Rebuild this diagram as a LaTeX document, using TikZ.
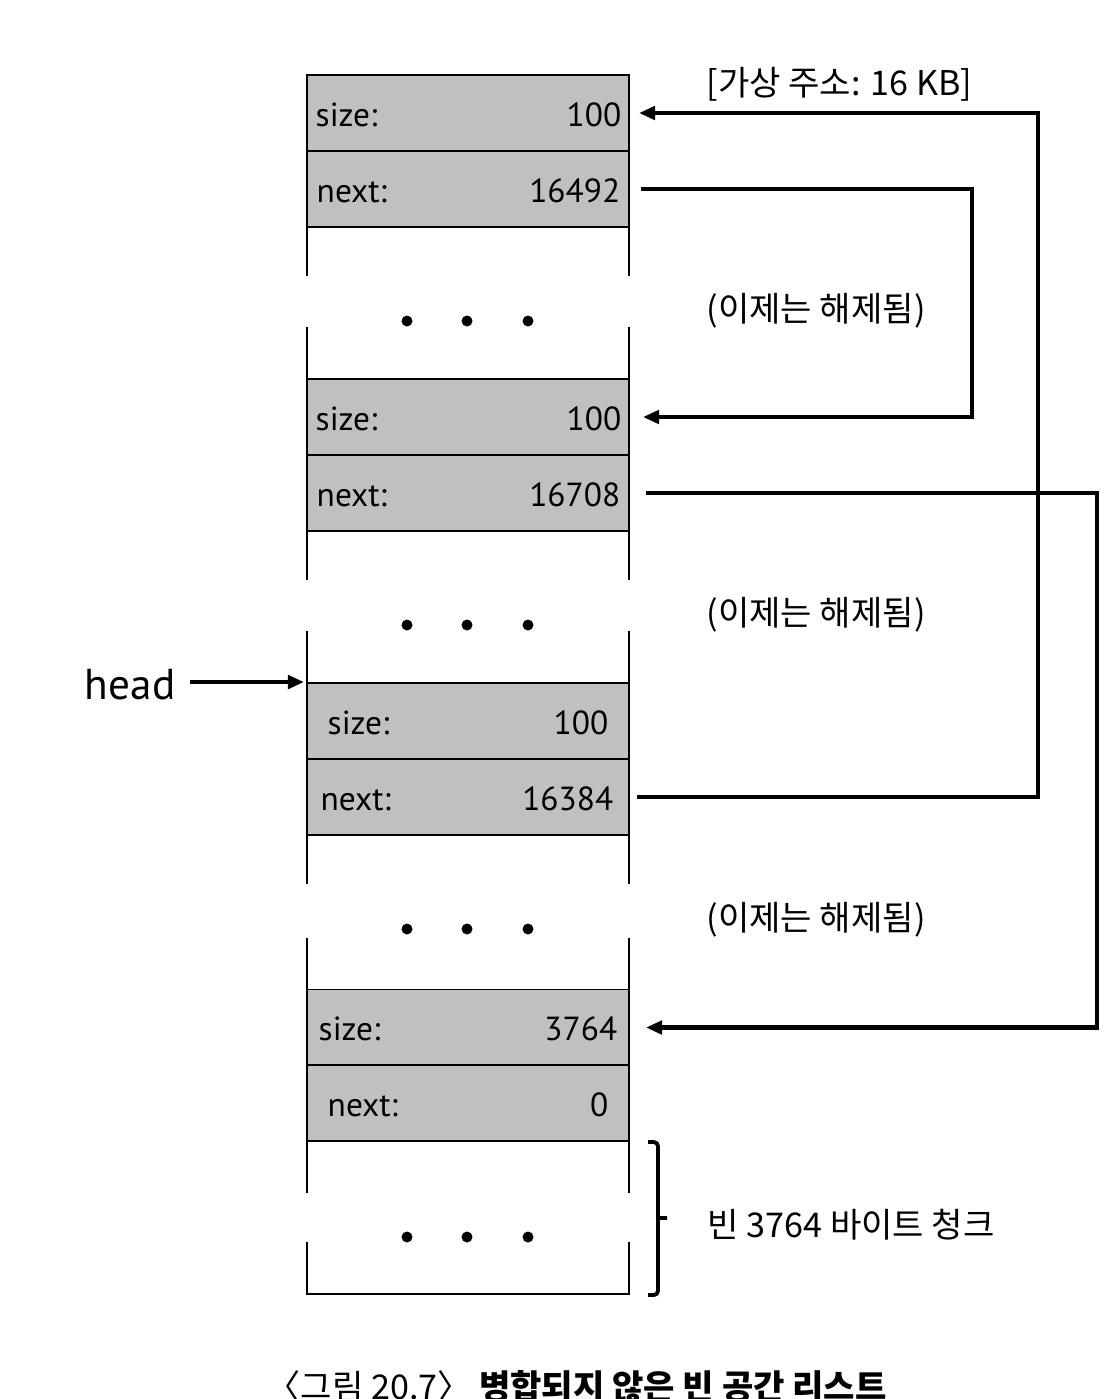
\documentclass[tikz,border=0pt]{standalone}
\usepackage{fontspec}
\usetikzlibrary{arrows.meta,calc,positioning}
\newfontfamily\krfont{Noto Sans CJK KR}
\newfontfamily\fldfont{PT Sans}
\definecolor{cellgray}{RGB}{192,192,192}
\tikzset{
  every picture/.style={line cap=butt, line join=miter,
    >={Triangle[length=4.6pt,width=3.8pt]}},
  % Speicherzellen
  cell/.style={draw, line width=0.55pt, fill=cellgray, minimum width=3.22cm,
    minimum height=0.76cm, inner sep=0pt},
  wall/.style={line width=0.55pt},
  fld/.style={font=\fldfont\fontsize{9.5}{12}\selectfont, inner sep=0pt},
  % Zeiger
  ptr/.style={line width=1.3pt, ->},
  note/.style={font=\krfont\fontsize{9.7}{11}\selectfont, anchor=west, inner sep=0pt},
  brace/.style={line width=1.1pt, rounded corners=1.2pt},
}
\begin{document}
\begin{tikzpicture}
  \useasboundingbox (0,0) rectangle (11.15,-13.99);
  % Felder: Name / y / Schluessel / Wert / Abstand links / Abstand rechts
  \foreach \n/\y/\k/\v/\pl/\pr in {s1/1.13/size:/100/0.09/0.08, n1/1.89/next:/16492/0.10/0.09,
      s2/4.17/size:/100/0.09/0.08, n2/4.93/next:/16708/0.10/0.09,
      s3/7.21/size:/100/0.21/0.21, n3/7.97/next:/16384/0.14/0.16,
      s4/10.275/size:/3764/0.12/0.12, n4/11.03/next:/0/0.21/0.21} {
    \node[cell] (\n) at (4.68,-\y) {};
    \node[fld, anchor=base west] (\n-k) at ([shift={(\pl,-0.13)}]\n.west) {\k};
    \node[fld, anchor=base east] (\n-v) at ([shift={(-\pr,-0.13)}]\n.east) {\v};
  }
  % freie Bereiche mit Luecke in den Seitenwaenden
  \foreach \t/\b in {2.27/3.79, 5.31/6.83, 8.35/9.90} {
    \draw[wall] (3.07,-\t) -- ++(0,-0.49) (6.29,-\t) -- ++(0,-0.49);
    \draw[wall] (3.07,-\b) -- ++(0,0.52) (6.29,-\b) -- ++(0,0.52);
    \foreach \x in {4.07,4.67,5.28} \fill (\x,-\t-0.94) circle (0.055);
  }
  \draw[wall] (3.07,-11.41) -- ++(0,-0.52) (6.29,-11.41) -- ++(0,-0.52);
  \draw[wall] (3.07,-12.42) -- (3.07,-12.94) -- (6.29,-12.94) -- (6.29,-12.42);
  \foreach \x in {4.07,4.67,5.28} \fill (\x,-12.37) circle (0.055);
  % head
  \node[fld, font=\fldfont\fontsize{12.3}{14}\selectfont, anchor=base east] (head) at (1.76,-6.99) {head};
  \draw[ptr, shorten <=0.14cm, shorten >=0.02cm] (head.east |- s3.north west) -- (s3.north west);
  % next-Zeiger
  \coordinate (rA) at (10.38,0);
  \coordinate (rB) at (9.72,0);
  \coordinate (rC) at (10.97,0);
  \draw[ptr, shorten <=0.07cm, shorten >=0.09cm] (n3.east) -| (rA |- s1.east) -- (s1.east);
  \draw[ptr, shorten <=0.11cm, shorten >=0.13cm] (n1.east) -| (rB |- s2.east) -- (s2.east);
  \draw[ptr, shorten <=0.16cm, shorten >=0.16cm] (n2.east) -| (rC |- s4.east) -- (s4.east);
  % Beschriftungen
  \node[note] (vaddr) at (7.06,-0.84) {[가상 주소: 16 KB]};
  \node[note] (freed1) at (7.06,-3.11) {(이제는 해제됨)};
  \node[note] (freed2) at (7.06,-6.15) {(이제는 해제됨)};
  \node[note] (freed3) at (7.06,-9.20) {(이제는 해제됨)};
  \draw[brace] (6.48,-11.42) -- (6.58,-11.42) -- (6.58,-12.95) -- (6.48,-12.95)
    (6.58,-12.18) -- (6.67,-12.18);
  \node[note] (chunk) at (7.07,-12.25) {빈 3764 바이트 청크};
  \node[anchor=north west, inner sep=0pt, font=\krfont\fontsize{9.7}{11}\selectfont] (caption)
    at (2.66,-13.70) {〈그림 20.7〉 {\bfseries 병합되지 않은 빈 공간 리스트}};
\end{tikzpicture}
\end{document}
